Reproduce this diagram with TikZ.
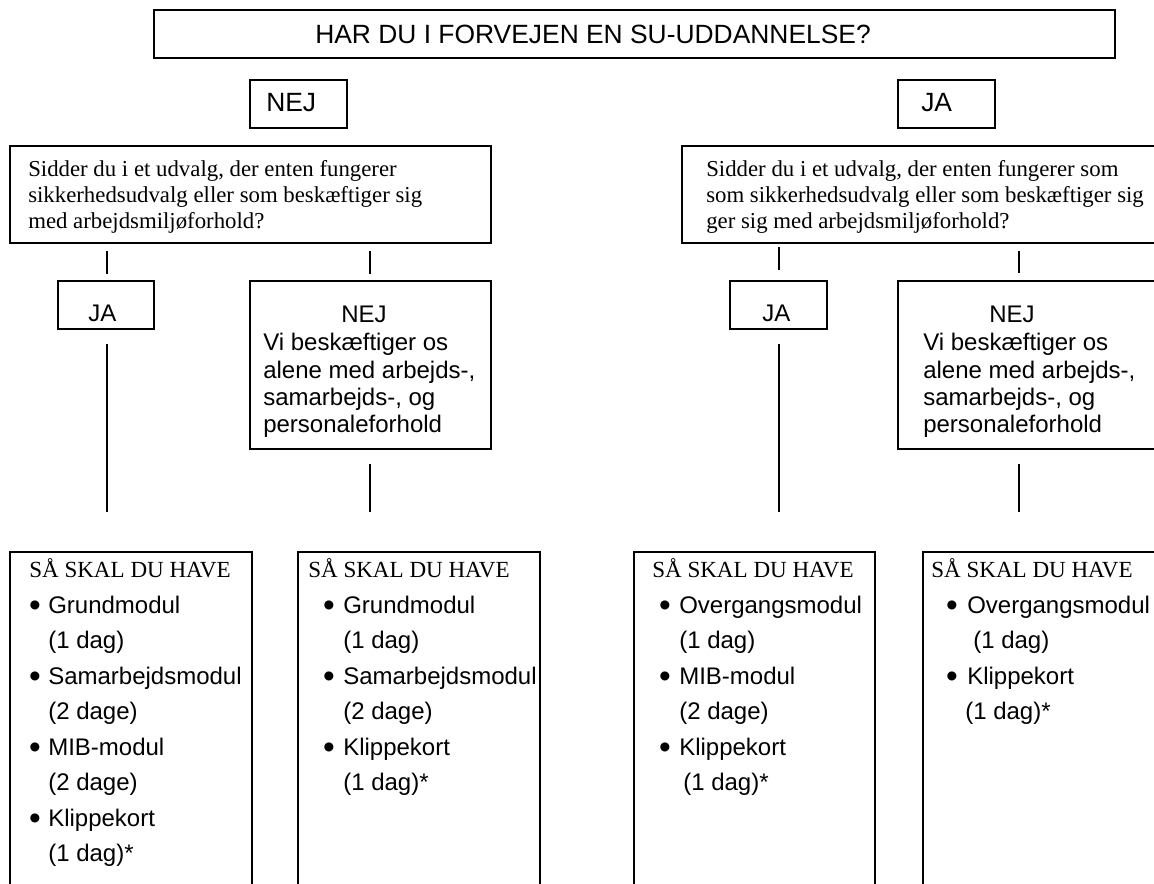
\documentclass[tikz,border=0pt]{standalone}
\usepackage{fontspec}
\setmainfont{Liberation Serif}
\newfontfamily\arialf{Liberation Sans}
\newcommand\mybox[5]{\node[boxst, minimum width=#4*0.75pt, minimum height=#5*0.75pt] (#1) at (#2,#3) {};}
\newcommand\bul[3]{\node[bulst] (#1) at (#2,#3+3.5) {•};}
\begin{document}
\begin{tikzpicture}[x=0.75pt,y=-0.75pt,
  boxst/.style={draw, line width=1.2pt, inner sep=0pt, outer sep=0pt, anchor=north west},
  conn/.style={line width=0.8pt},
  sanslbl/.style={font=\arialf\fontsize{18}{21}\selectfont, inner sep=0pt, anchor=base west},
  bulst/.style={font=\arialf\fontsize{25}{27}\selectfont, inner sep=0pt, anchor=base},
  biglbl/.style={font=\arialf\fontsize{19.8}{23}\selectfont, inner sep=0pt, anchor=base west},
  seriflbl/.style={font=\fontsize{17.3}{20}\selectfont, inner sep=0pt, anchor=base west},
  qlbl/.style={font=\fontsize{17.1}{19}\selectfont, inner sep=0pt, anchor=base west},
]
\useasboundingbox (0,0) rectangle (1154,884);
\clip (0,0) rectangle (1154,884);

% boxes
\mybox{top}{154}{10}{961}{48}
\mybox{nejA}{250}{80}{97}{48}
\mybox{jaA}{898}{80}{97}{48}
\mybox{q1}{10}{146}{481}{97}
\mybox{q2}{682}{146}{500}{97}
\mybox{ja1}{58}{281}{96}{48}
\mybox{nej1}{250}{281}{241}{168}
\mybox{ja2}{730}{281}{97}{48}
\mybox{nej2}{898}{281}{280}{168}
\mybox{r1}{10}{552}{242}{400}
\mybox{r2}{298}{552}{242}{400}
\mybox{r3}{634}{552}{241}{400}
\mybox{r4}{923}{552}{280}{400}

% connector x positions
\coordinate (c1) at (107,0);
\coordinate (c2) at (370,0);
\coordinate (c3) at (779,0);
\coordinate (c4) at (1019,0);

\draw[conn, shorten <=6pt, shorten >=5.25pt] (q1.south -| c1) -- (ja1.north -| c1);
\draw[conn, shorten <=6pt, shorten >=5.25pt] (q1.south -| c2) -- (nej1.north -| c2);
\draw[conn, shorten <=3pt, shorten >=8.25pt] (q2.south -| c3) -- (ja2.north -| c3);
\draw[conn, shorten <=6pt, shorten >=6pt] (q2.south -| c4) -- (nej2.north -| c4);

\draw[conn, shorten <=11.25pt, shorten >=30pt] (ja1.south -| c1) -- (r1.north -| c1);
\draw[conn, shorten <=11.25pt, shorten >=30pt] (nej1.south -| c2) -- (r2.north -| c2);
\draw[conn, shorten <=11.25pt, shorten >=30pt] (ja2.south -| c3) -- (r3.north -| c3);
\draw[conn, shorten <=11.25pt, shorten >=30pt] (nej2.south -| c4) -- (r4.north -| c4);

% top texts
\node[biglbl] (tTop) at (315,44) {HAR DU I FORVEJEN EN SU-UDDANNELSE?};
\node[biglbl] (tNejA) at (266,112) {NEJ};
\node[biglbl] (tJaA) at (921,112) {JA};

% question boxes
\node[qlbl] (q1a) at (28,177) {Sidder du i et udvalg, der enten fungerer};
\node[qlbl] (q1b) at (28,203) {sikkerhedsudvalg eller som beskæftiger sig};
\node[qlbl] (q1c) at (28,229) {med arbejdsmiljøforhold?};
\node[qlbl] (q2a) at (706,177) {Sidder du i et udvalg, der enten fungerer som};
\node[qlbl] (q2b) at (706,203) {som sikkerhedsudvalg eller som beskæftiger sig};
\node[qlbl] (q2c) at (706,229) {ger sig med arbejdsmiljøforhold?};

% level 2
\node[sanslbl] (tja1) at (88,322) {JA};
\node[sanslbl] (tja2) at (762,322) {JA};
\node[sanslbl, anchor=base] (tnej1) at (364,323) {NEJ};
\node[sanslbl] (n1a) at (263,351) {Vi beskæftiger os};
\node[sanslbl] (n1b) at (263,379) {alene med arbejds-,};
\node[sanslbl] (n1c) at (263,406) {samarbejds-, og};
\node[sanslbl] (n1d) at (263,432) {personaleforhold};
\node[sanslbl, anchor=base] (tnej2) at (1012,323) {NEJ};
\node[sanslbl] (n2a) at (923,351) {Vi beskæftiger os};
\node[sanslbl] (n2b) at (923,379) {alene med arbejds-,};
\node[sanslbl] (n2c) at (923,406) {samarbejds-, og};
\node[sanslbl] (n2d) at (923,432) {personaleforhold};

% result box 1
\node[seriflbl] (h1) at (29,577) {SÅ SKAL DU HAVE};
\bul{b1a}{35}{613}
\node[sanslbl] (r1a) at (48,613) {Grundmodul};
\node[sanslbl] (r1b) at (48,648.5) {(1 dag)};
\bul{b1c}{35}{684}
\node[sanslbl] (r1c) at (48,684) {Samarbejdsmodul};
\node[sanslbl] (r1d) at (48,719.5) {(2 dage)};
\bul{b1e}{35}{755}
\node[sanslbl] (r1e) at (48,755) {MIB-modul};
\node[sanslbl] (r1f) at (48,790.5) {(2 dage)};
\bul{b1g}{35}{826}
\node[sanslbl] (r1g) at (48,826) {Klippekort};
\node[sanslbl] (r1h) at (48,861.5) {(1 dag)*};

% result box 2
\node[seriflbl] (h2) at (308,577) {SÅ SKAL DU HAVE};
\bul{b2a}{329}{613}
\node[sanslbl] (r2a) at (343,613) {Grundmodul};
\node[sanslbl] (r2b) at (343,648.5) {(1 dag)};
\bul{b2c}{329}{684}
\node[sanslbl] (r2c) at (343,684) {Samarbejdsmodul};
\node[sanslbl] (r2d) at (343,719.5) {(2 dage)};
\bul{b2e}{329}{755}
\node[sanslbl] (r2e) at (343,755) {Klippekort};
\node[sanslbl] (r2f) at (343,790.5) {(1 dag)*};

% result box 3
\node[seriflbl] (h3) at (652,577) {SÅ SKAL DU HAVE};
\bul{b3a}{665}{613}
\node[sanslbl] (r3a) at (679,613) {Overgangsmodul};
\node[sanslbl] (r3b) at (679,648.5) {(1 dag)};
\bul{b3c}{665}{684}
\node[sanslbl] (r3c) at (679,684) {MIB-modul};
\node[sanslbl] (r3d) at (679,719.5) {(2 dage)};
\bul{b3e}{665}{755}
\node[sanslbl] (r3e) at (679,755) {Klippekort};
\node[sanslbl] (r3f) at (683,790.5) {(1 dag)*};

% result box 4
\node[seriflbl] (h4) at (931,577) {SÅ SKAL DU HAVE};
\bul{b4a}{952}{613}
\node[sanslbl] (r4a) at (967,613) {Overgangsmodul};
\node[sanslbl] (r4b) at (973,648.5) {(1 dag)};
\bul{b4c}{952}{684}
\node[sanslbl] (r4c) at (967,684) {Klippekort};
\node[sanslbl] (r4d) at (965,719.5) {(1 dag)*};
\end{tikzpicture}
\end{document}
